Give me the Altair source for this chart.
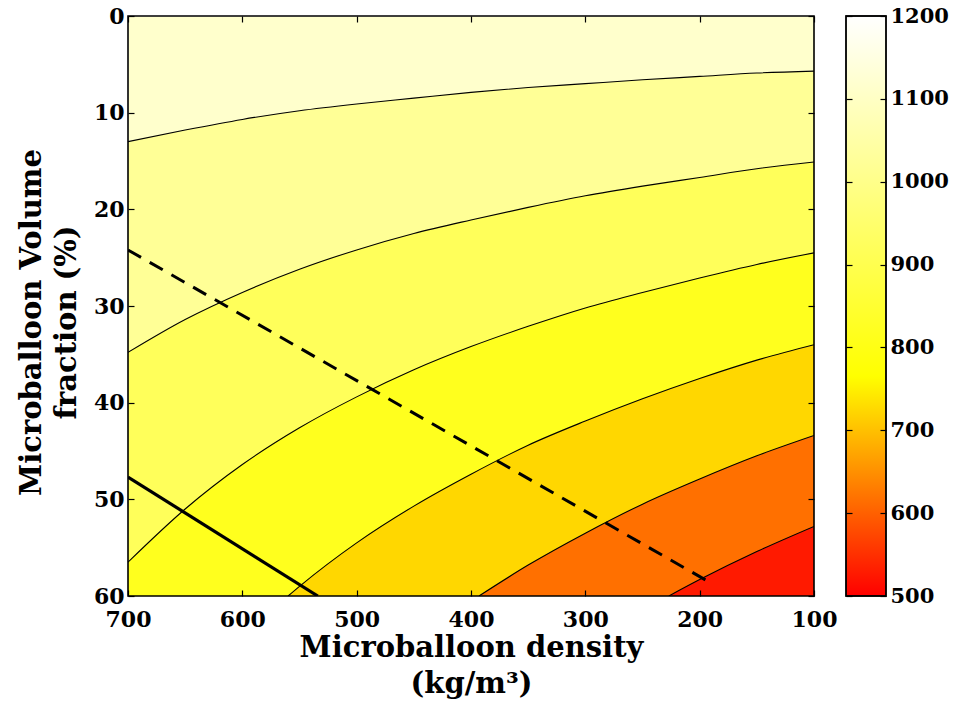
import altair as alt
import pandas as pd

# ---------------- data ----------------
x_ticks = [700, 600, 500, 400, 300, 200, 100]
y_ticks = [0, 10, 20, 30, 40, 50, 60]
cbar_ticks = [500, 600, 700, 800, 900, 1000, 1100, 1200]

contour_levels = [1100, 1000, 900, 800, 700, 600]

# contour positions (microballoon density, volume fraction %)
c1100_x = [700, 650, 600, 550, 500, 450, 400, 350, 300, 250, 200, 150, 100]
c1100_y = [13.0, 11.8, 10.7, 9.8, 9.1, 8.5, 7.9, 7.4, 7.0, 6.6, 6.25, 5.9, 5.7]
c1000_x = [700, 650, 600, 550, 500, 450, 400, 350, 300, 250, 200, 150, 100]
c1000_y = [34.8, 31.4, 28.6, 26.2, 24.2, 22.5, 21.1, 19.8, 18.6, 17.6, 16.7, 15.8, 15.1]
c900_x = [700, 650, 600, 550, 500, 450, 400, 350, 300, 250, 200, 150, 100]
c900_y = [56.5, 51.0, 46.4, 42.6, 39.4, 36.6, 34.2, 32.1, 30.2, 28.6, 27.1, 25.7, 24.5]
c800_x = [560, 550, 500, 450, 400, 350, 300, 250, 200, 150, 100]
c800_y = [60.0, 59.0, 54.5, 50.7, 47.4, 44.4, 41.9, 39.6, 37.5, 35.6, 34.0]
c700_x = [393, 350, 300, 250, 200, 150, 100]
c700_y = [60.0, 56.8, 53.5, 50.5, 47.9, 45.5, 43.4]
c600_x = [227, 200, 150, 100]
c600_y = [60.0, 58.3, 55.4, 52.8]

dashed_x = [700, 188]
dashed_y = [24.2, 58.8]
solid_x = [700, 534]
solid_y = [47.7, 60.0]

# ---------------- styles ----------------
FONT = "DejaVu Serif"
TOP_COLOR = "#FFFFCC"
band_colors = ["#FFFF96", "#FFFF5A", "#FFFF1E", "#FFD700", "#FF7000", "#FF1A00"]

contour_xy = {
    1100: (c1100_x, c1100_y),
    1000: (c1000_x, c1000_y),
    900: (c900_x, c900_y),
    800: (c800_x, c800_y),
    700: (c700_x, c700_y),
    600: (c600_x, c600_y),
}
rows = []
for lvl in contour_levels:
    xs, ys = contour_xy[lvl]
    for xv, yv in zip(xs, ys):
        rows.append({"level": lvl, "x": xv, "y": yv})
contours = pd.DataFrame(rows)

x_scale = alt.Scale(domain=[min(x_ticks), max(x_ticks)], reverse=True, nice=False, zero=False)
y_scale = alt.Scale(domain=[min(y_ticks), max(y_ticks)], reverse=True, nice=False, zero=False)
y_bottom = max(y_ticks)

label_style = dict(labelFont=FONT, labelFontSize=22, labelFontWeight="bold", labelColor="black")
cb_label_style = dict(labelFont=FONT, labelFontSize=21, labelFontWeight="bold", labelColor="black")
title_style = dict(titleFont=FONT, titleFontSize=29, titleFontWeight="bold", titleColor="black")

x_axis_main = alt.Axis(orient="bottom", values=x_ticks, offset=-6, tickSize=6, tickColor="black",
                       tickWidth=1.2, domain=False, grid=False, labelPadding=13, labelFlush=False,
                       title=["Microballoon density", "(kg/m³)"], titlePadding=3,
                       titleLineHeight=36, zindex=2, **label_style, **title_style)
y_axis_main = alt.Axis(orient="left", values=y_ticks, offset=-6, tickSize=6, tickColor="black",
                       tickWidth=1.2, domain=False, grid=False, labelPadding=4, labelFlush=False,
                       title=["Microballoon Volume", "fraction (%)"], titlePadding=12,
                       titleLineHeight=35, titleY=306, zindex=2, **label_style, **title_style)

layers = []
for i, lvl in enumerate(contour_levels):
    first = i == 0
    area = alt.Chart(contours).transform_filter(alt.datum.level == lvl).mark_area(
        color=band_colors[i], interpolate="monotone", orient="vertical", clip=True
    ).encode(
        x=alt.X("x:Q", scale=x_scale, axis=x_axis_main if first else None),
        y=alt.Y("y:Q", scale=y_scale, axis=y_axis_main if first else None, stack=None),
        y2=alt.Y2(datum=y_bottom),
    )
    layers.append(area)

lines = alt.Chart(contours).mark_line(color="black", strokeWidth=1.1, interpolate="monotone", clip=True).encode(
    x=alt.X("x:Q", scale=x_scale, axis=None),
    y=alt.Y("y:Q", scale=y_scale, axis=None),
    detail="level:N",
)
layers.append(lines)

dash_df = pd.DataFrame({"x": dashed_x, "y": dashed_y})
solid_df = pd.DataFrame({"x": solid_x, "y": solid_y})
dash = alt.Chart(dash_df).mark_line(color="black", strokeWidth=3, strokeDash=[15, 10], clip=True).encode(
    x=alt.X("x:Q", scale=x_scale, axis=None), y=alt.Y("y:Q", scale=y_scale, axis=None))
solid = alt.Chart(solid_df).mark_line(color="black", strokeWidth=3.2, clip=True).encode(
    x=alt.X("x:Q", scale=x_scale, axis=None), y=alt.Y("y:Q", scale=y_scale, axis=None))
layers += [dash, solid]

frame_df = pd.DataFrame({"x0": [max(x_ticks)], "x1": [min(x_ticks)], "y0": [min(y_ticks)], "y1": [max(y_ticks)]})
frame = alt.Chart(frame_df).mark_rect(fillOpacity=0, stroke="black", strokeWidth=1.6).encode(
    x=alt.X("x0:Q", scale=x_scale,
            axis=alt.Axis(orient="top", values=x_ticks, offset=-6, tickSize=6, tickColor="black",
                          tickWidth=1.2, domain=False, grid=False, labels=False, title=None, zindex=2)),
    x2="x1:Q",
    y=alt.Y("y0:Q", scale=y_scale,
            axis=alt.Axis(orient="right", values=y_ticks, offset=-6, tickSize=6, tickColor="black",
                          tickWidth=1.2, domain=False, grid=False, labels=False, title=None, zindex=2)),
    y2="y1:Q",
)
layers.append(frame)

main = alt.layer(*layers).resolve_axis(x="independent", y="independent").properties(
    width=686, height=580, view=alt.ViewBackground(fill=TOP_COLOR, stroke="transparent"))

# ---------------- colorbar ----------------
cb_lo, cb_hi = min(cbar_ticks), max(cbar_ticks)
cb_df = pd.DataFrame({"lo": [cb_lo], "hi": [cb_hi], "l": [0], "r": [1]})
cb_scale = alt.Scale(domain=[cb_lo, cb_hi], nice=False, zero=False)
cb_x = alt.Scale(domain=[0, 1], nice=False, zero=False)
grad = alt.Gradient(
    gradient="linear",
    stops=[alt.GradientStop(color="#FF0000", offset=0),
           alt.GradientStop(color="#FFFF00", offset=0.379),
           alt.GradientStop(color="#FFFFFF", offset=1)],
    x1=0, x2=0, y1=1, y2=0,
)
cb_rect = alt.Chart(cb_df).mark_rect(fill=grad, stroke="black", strokeWidth=1.4).encode(
    x=alt.X("l:Q", scale=cb_x, axis=None),
    x2="r:Q",
    y=alt.Y("lo:Q", scale=cb_scale,
            axis=alt.Axis(orient="right", values=cbar_ticks, format="d", offset=-6, tickSize=6,
                          tickColor="black", tickWidth=1.2, domain=False, grid=False, labelPadding=4,
                          labelFlush=False, title=None, zindex=2, **cb_label_style)),
    y2="hi:Q",
)
cb_left = alt.Chart(cb_df).mark_rect(fillOpacity=0, stroke="black", strokeWidth=1.4).encode(
    x=alt.X("l:Q", scale=cb_x, axis=None),
    x2="r:Q",
    y=alt.Y("lo:Q", scale=cb_scale,
            axis=alt.Axis(orient="left", values=cbar_ticks, offset=-6, tickSize=6, tickColor="black",
                          tickWidth=1.2, domain=False, grid=False, labels=False, title=None, zindex=2)),
    y2="hi:Q",
)
colorbar = alt.layer(cb_rect, cb_left).resolve_axis(y="independent").properties(
    width=40, height=580, view=alt.ViewBackground(fill="white", stroke="transparent"))

chart = alt.hconcat(main, colorbar, spacing=32, bounds="flush").properties(
    padding={"left": 16, "top": 4, "right": 5, "bottom": 5},
    background="white",
).configure_view(stroke="transparent")

chart.save("out.html", embed_options={"renderer": "svg", "actions": False})
